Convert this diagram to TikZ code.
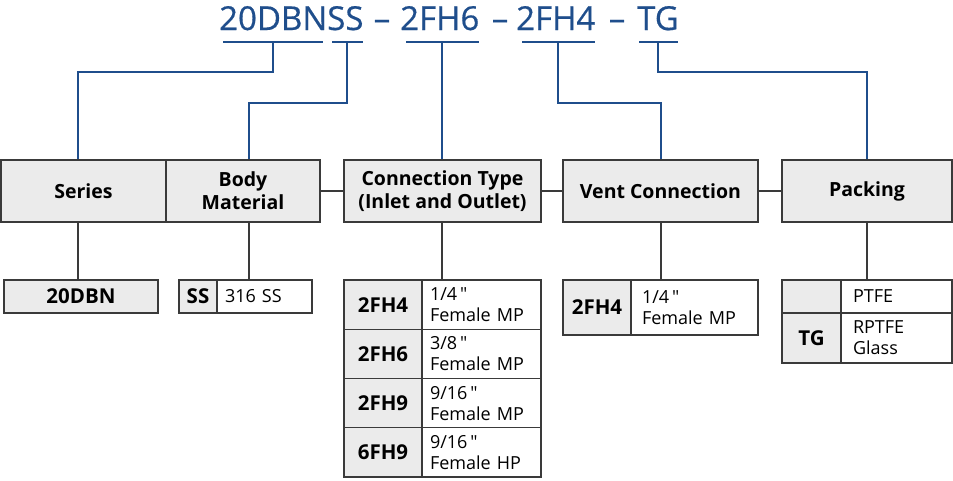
\documentclass[tikz,border=0pt]{standalone}
\usepackage{fontspec}
\setmainfont{Open Sans}[Ligatures=TeXOff]
\newfontfamily\titlefont{Open Sans}[FakeBold=0.5]
\definecolor{tblue}{HTML}{1F4E8C}
\definecolor{boxgray}{HTML}{EBEBEB}
\definecolor{linegray}{HTML}{3A3A3A}
\begin{document}
\begin{tikzpicture}[x=1pt,y=-1pt,
  ttl/.style={text=tblue, inner sep=0pt, font=\titlefont\fontsize{33}{36}\selectfont},
  bline/.style={draw=tblue, line width=1.6pt},
  gline/.style={draw=linegray, line width=1.3pt},
  hdr/.style={draw=linegray, fill=boxgray, line width=1.3pt, inner sep=0pt, align=center,
    font=\fontsize{19.5}{23}\bfseries\selectfont},
  codecell/.style={draw=linegray, fill=boxgray, line width=1.3pt, inner sep=0pt,
    font=\fontsize{20.5}{22}\bfseries\selectfont},
  desccell/.style={draw=linegray, fill=white, line width=1.3pt, inner xsep=8pt, inner ysep=0pt,
    align=left, font=\fontsize{18}{21}\selectfont}
]
\useasboundingbox (0,0) rectangle (953,480);

% title
\node[ttl, anchor=base west] (tA) at (219,30) {20DBNSS};
\node[ttl, anchor=base] (d1) at (382,30) {–};
\node[ttl, anchor=base west] (tB) at (400,30) {2FH6};
\node[ttl, anchor=base] (d2) at (500,30) {–};
\node[ttl, anchor=base west] (tC) at (516,30) {2FH4};
\node[ttl, anchor=base] (d3) at (617,30) {–};
\node[ttl, anchor=base west] (tD) at (637,30) {TG};

% underlines
\draw[bline] (223,42) -- (323,42);
\draw[bline] (332,42) -- (363,42);
\draw[bline] (406,42) -- (479,42);
\draw[bline] (522,42) -- (595,42);
\draw[bline] (639,42) -- (678,42);

% header boxes
\node[hdr, minimum width=165pt, minimum height=62pt] (series) at (83.5,191) {Series};
\node[hdr, minimum width=154pt, minimum height=62pt] (body) at (243,191) {Body\\Material};
\node[hdr, minimum width=197pt, minimum height=62pt] (conn) at (442.5,191) {Connection Type\\(Inlet and Outlet)};
\node[hdr, minimum width=195pt, minimum height=62pt] (vent) at (660.5,191) {Vent Connection};
\node[hdr, minimum width=170pt, minimum height=62pt] (pack) at (867,191) {Packing};

\draw[gline] (body.east) -- (conn.west);
\draw[gline] (conn.east) -- (vent.west);
\draw[gline] (vent.east) -- (pack.west);

% x positions of the drop lines
\coordinate (xs) at (78,0);
\coordinate (xb) at (249,0);
\coordinate (xc) at (442,0);
\coordinate (xv) at (661,0);
\coordinate (xp) at (867,0);

% title taps
\coordinate (t1) at (273,42);
\coordinate (t2) at (347,42);
\coordinate (t3) at (442,42);
\coordinate (t4) at (558,42);
\coordinate (t5) at (658,42);
\draw[bline] (t1) -- ++(0,30) -| (series.north -| xs);
\draw[bline] (t2) -- ++(0,61) -| (body.north -| xb);
\draw[bline] (t3) -- (conn.north -| xc);
\draw[bline] (t4) -- ++(0,61) -| (vent.north -| xv);
\draw[bline] (t5) -- ++(0,30) -| (pack.north -| xp);

% series
\node[codecell, minimum width=154pt, minimum height=33pt] (s20) at (81,296.5) {20DBN};
% body material
\node[codecell, minimum width=38pt, minimum height=33pt] (ssc) at (198,296.5) {SS};
\node[desccell, text width=79pt, minimum height=33pt] (ssd) at (264.5,296.5) {316 SS};
% connection type
\node[codecell, minimum width=78pt, minimum height=49.25pt] (c1) at (383,304.6) {2FH4};
\node[desccell, text width=103pt, minimum height=49.25pt] (c1d) at (481.5,304.6) {1/4\," \\Female MP};
\node[codecell, minimum width=78pt, minimum height=49.25pt] (c2) at (383,353.9) {2FH6};
\node[desccell, text width=103pt, minimum height=49.25pt] (c2d) at (481.5,353.9) {3/8\," \\Female MP};
\node[codecell, minimum width=78pt, minimum height=49.25pt] (c3) at (383,403.1) {2FH9};
\node[desccell, text width=103pt, minimum height=49.25pt] (c3d) at (481.5,403.1) {9/16\," \\Female MP};
\node[codecell, minimum width=78pt, minimum height=49.25pt] (c4) at (383,452.4) {6FH9};
\node[desccell, text width=103pt, minimum height=49.25pt] (c4d) at (481.5,452.4) {9/16\," \\Female HP};
% vent
\node[codecell, minimum width=68pt, minimum height=55pt] (v1) at (597,307.5) {2FH4};
\node[desccell, inner xsep=11pt, text width=105pt, minimum height=55pt] (v1d) at (694.5,307.5) {1/4\," \\Female MP};
% packing
\node[codecell, minimum width=59pt, minimum height=33pt] (p1) at (811.5,296.5) {};
\node[desccell, inner xsep=12pt, text width=87pt, minimum height=33pt] (p1d) at (896.5,296.5) {PTFE};
\node[codecell, minimum width=59pt, minimum height=50pt] (p2) at (811.5,338) {TG};
\node[desccell, inner xsep=12pt, text width=87pt, minimum height=50pt] (p2d) at (896.5,338) {RPTFE\\Glass};

% drop lines
\draw[gline] (series.south -| xs) -- (s20.north -| xs);
\draw[gline] (body.south -| xb) -- (ssd.north -| xb);
\draw[gline] (conn.south -| xc) -- (c1d.north -| xc);
\draw[gline] (vent.south -| xv) -- (v1d.north -| xv);
\draw[gline] (pack.south -| xp) -- (p1d.north -| xp);
\end{tikzpicture}
\end{document}
